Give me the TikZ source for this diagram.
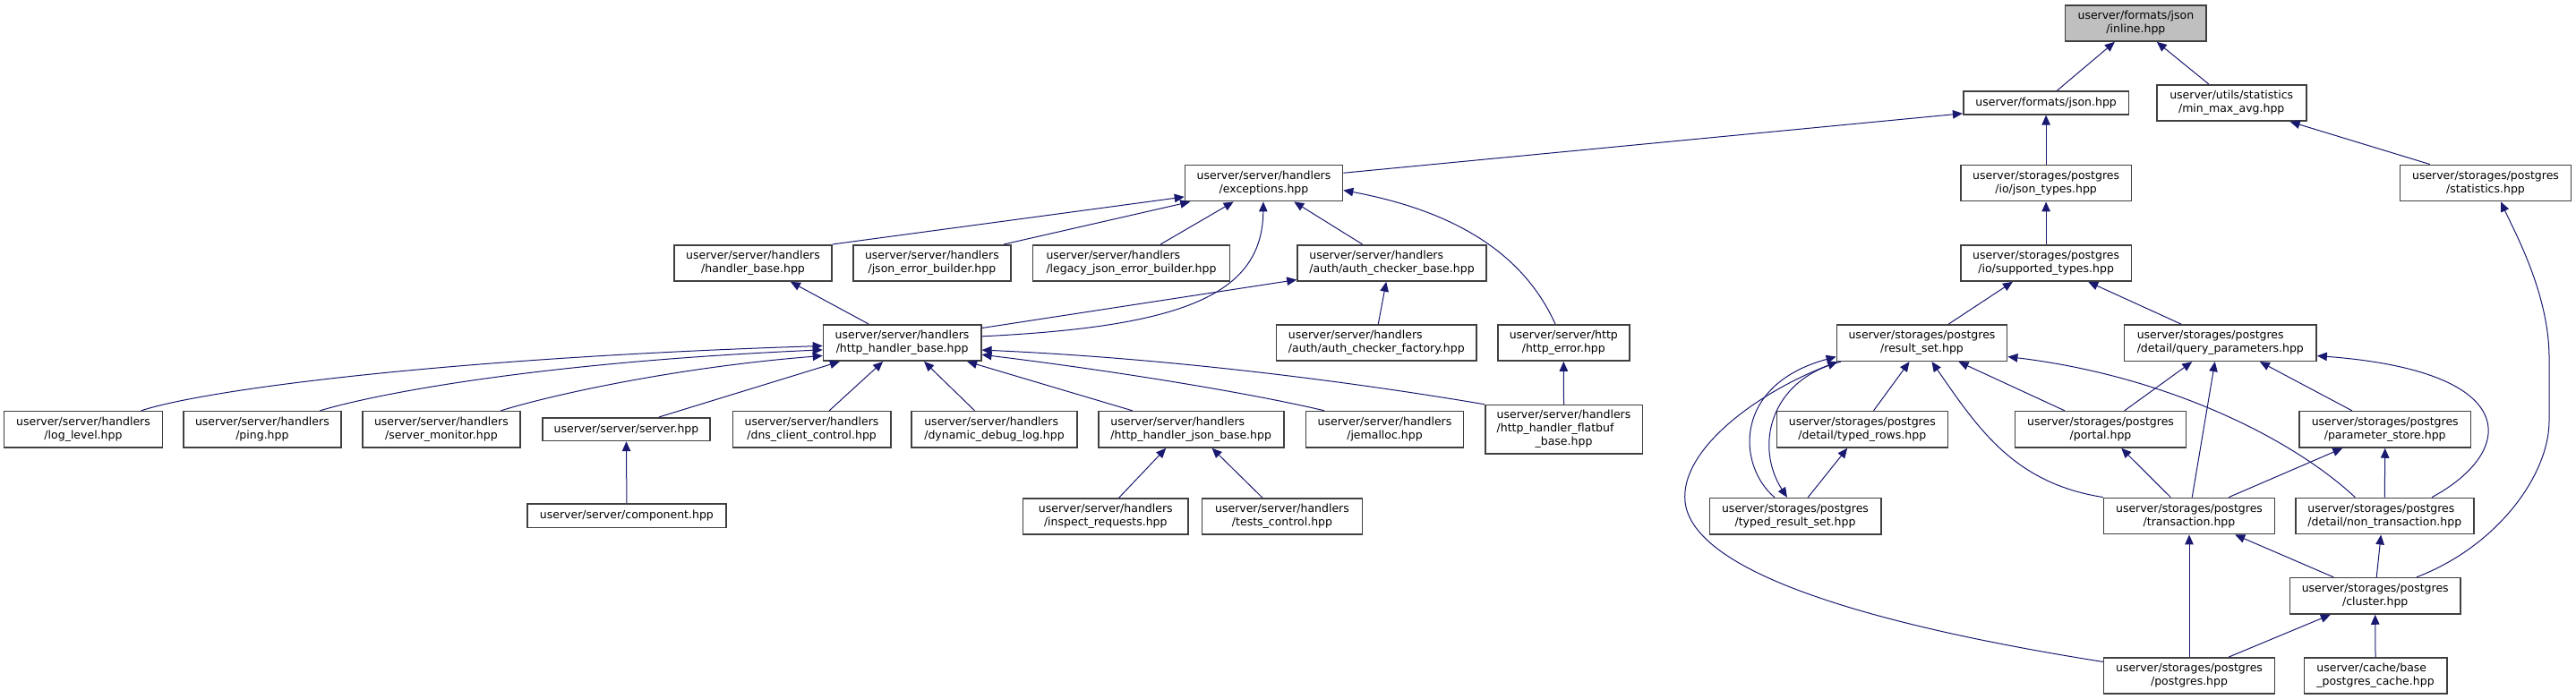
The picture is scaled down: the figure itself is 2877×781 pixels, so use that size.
\documentclass[tikz,border=0pt]{standalone}
\usepackage{fontspec}
\setmainfont{DejaVu Sans}
\usetikzlibrary{arrows.meta}
\definecolor{boxc}{RGB}{64,64,64}
\definecolor{edgec}{RGB}{25,25,112}
\definecolor{rootfill}{RGB}{191,191,191}
\newcommand\two[2]{\begin{tabular}{@{}l@{}}#1\\\multicolumn{1}{@{}c@{}}{#2}\end{tabular}}
\newcommand\three[3]{\begin{tabular}{@{}l@{}}#1\\#2\\\multicolumn{1}{@{}c@{}}{#3}\end{tabular}}
\tikzset{
  box/.style={draw=boxc, line width=1.6pt, fill=white, inner sep=0pt, minimum height=40.3pt, font=\fontsize{12.5pt}{15pt}\selectfont},
  onebox/.style={box, minimum height=25.6pt},
  rootbox/.style={box, fill=rootfill},
  edge/.style={draw=edgec, line width=1pt, -{Triangle[length=11pt,width=9.5pt]}, fill=none},
}
\begin{document}
\begin{tikzpicture}[x=1pt,y=-1pt]
\useasboundingbox (0,0) rectangle (2877,781);
\fill[white] (0,0) rectangle (2877,781);

% ---------- right part ----------
\node[rootbox, minimum width=157.6pt] (inline) at (2385.4,25.9) {\two{userver/formats/json}{/inline.hpp}};
\node[onebox, minimum width=184.8pt] (json) at (2285.1,115) {userver/formats/json.hpp};
\node[box, minimum width=167pt] (minmax) at (2492.2,115) {\two{userver/utils/statistics}{/min\_max\_avg.hpp}};
\node[box, minimum width=190.8pt] (jsontypes) at (2285.1,204.5) {\two{userver/storages/postgres}{/io/json\_types.hpp}};
\node[box, minimum width=191.3pt] (statistics) at (2776,204.5) {\two{userver/storages/postgres}{/statistics.hpp}};
\node[box, minimum width=190.8pt] (supported) at (2285.1,293.9) {\two{userver/storages/postgres}{/io/supported\_types.hpp}};
\node[box, minimum width=214.5pt] (query) at (2479.8,383.2) {\two{userver/storages/postgres}{/detail/query\_parameters.hpp}};
\node[box, minimum width=190.2pt] (resultset) at (2146.5,383.2) {\two{userver/storages/postgres}{/result\_set.hpp}};
\node[box, minimum width=191pt] (typedrows) at (2079.8,479.8) {\two{userver/storages/postgres}{/detail/typed\_rows.hpp}};
\node[box, minimum width=191pt] (portal) at (2346,479.8) {\two{userver/storages/postgres}{/portal.hpp}};
\node[box, minimum width=191.7pt] (paramstore) at (2663.7,479.8) {\two{userver/storages/postgres}{/parameter\_store.hpp}};
\node[box, minimum width=191.4pt] (typedrs) at (2005,576.7) {\two{userver/storages/postgres}{/typed\_result\_set.hpp}};
\node[box, minimum width=190.9pt] (transaction) at (2445,576.5) {\two{userver/storages/postgres}{/transaction.hpp}};
\node[box, minimum width=199.2pt] (nontrans) at (2663.3,576.5) {\two{userver/storages/postgres}{/detail/non\_transaction.hpp}};
\node[box, minimum width=190.2pt] (cluster) at (2652.7,665.8) {\two{userver/storages/postgres}{/cluster.hpp}};
\node[box, minimum width=190.9pt] (postgres) at (2445,755) {\two{userver/storages/postgres}{/postgres.hpp}};
\node[box, minimum width=159.4pt] (basecache) at (2653,755) {\two{userver/cache/base}{\_postgres\_cache.hpp}};

% ---------- left part ----------
\node[box, minimum width=176pt] (exceptions) at (1411.5,204.5) {\two{userver/server/handlers}{/exceptions.hpp}};
\node[box, minimum width=176pt] (handlerbase) at (841,293.9) {\two{userver/server/handlers}{/handler\_base.hpp}};
\node[box, minimum width=175.8pt] (jsonerr) at (1040.9,293.9) {\two{userver/server/handlers}{/json\_error\_builder.hpp}};
\node[box, minimum width=219.9pt] (legacy) at (1263.5,293.9) {\two{userver/server/handlers}{/legacy\_json\_error\_builder.hpp}};
\node[box, minimum width=211pt] (authbase) at (1554.5,293.9) {\two{userver/server/handlers}{/auth/auth\_checker\_base.hpp}};
\node[box, minimum width=176.3pt] (hhb) at (1007.6,383) {\two{userver/server/handlers}{/http\_handler\_base.hpp}};
\node[box, minimum width=223.5pt] (authfactory) at (1537.3,383) {\two{userver/server/handlers}{/auth/auth\_checker\_factory.hpp}};
\node[box, minimum width=146.8pt] (httperror) at (1746.3,383) {\two{userver/server/http}{/http\_error.hpp}};
\node[box, minimum width=176.8pt] (loglevel) at (93,479.8) {\two{userver/server/handlers}{/log\_level.hpp}};
\node[box, minimum width=176.2pt] (ping) at (292.9,479.8) {\two{userver/server/handlers}{/ping.hpp}};
\node[box, minimum width=175.8pt] (servermon) at (492.9,479.8) {\two{userver/server/handlers}{/server\_monitor.hpp}};
\node[onebox, minimum width=187pt] (server) at (699.5,479.6) {userver/server/server.hpp};
\node[box, minimum width=176.3pt] (dns) at (906.6,479.8) {\two{userver/server/handlers}{/dns\_client\_control.hpp}};
\node[box, minimum width=185pt] (dynamic) at (1110.5,479.8) {\two{userver/server/handlers}{/dynamic\_debug\_log.hpp}};
\node[box, minimum width=207pt] (jsonbase) at (1330.2,479.8) {\two{userver/server/handlers}{/http\_handler\_json\_base.hpp}};
\node[box, minimum width=175.8pt] (jemalloc) at (1546.5,479.8) {\two{userver/server/handlers}{/jemalloc.hpp}};
\node[box, minimum width=175.6pt, minimum height=54.3pt] (flatbuf) at (1746.5,479.7) {\three{userver/server/handlers}{/http\_handler\_flatbuf}{\_base.hpp}};
\node[onebox, minimum width=221.8pt, minimum height=26.6pt] (component) at (699.9,576) {userver/server/component.hpp};
\node[box, minimum width=184.4pt] (inspect) at (1234.8,577) {\two{userver/server/handlers}{/inspect\_requests.hpp}};
\node[box, minimum width=178.9pt] (tests) at (1432,577) {\two{userver/server/handlers}{/tests\_control.hpp}};

% ---------- edges: right part ----------
\draw[edge] ([xshift=105.3pt]json.north west) -- ([xshift=56pt]inline.south west);
\draw[edge] ([xshift=59pt]minmax.north west) -- ([xshift=103pt]inline.south west);
\draw[edge] ([yshift=-9.7pt]exceptions.north east) -- ([yshift=1.8pt]json.south west);
\draw[edge] (jsontypes.north) -- (json.south);
\draw[edge] ([xshift=34.2pt]statistics.north west) -- ([xshift=149.7pt]minmax.south west);
\draw[edge] (supported.north) -- (jsontypes.south);
\draw[edge] ([xshift=125.4pt]resultset.north west) -- ([xshift=59pt]supported.south west);
\draw[edge] ([xshift=64.5pt]query.north west) -- ([xshift=143.3pt]supported.south west);
\draw[edge] ([xshift=142.1pt]cluster.north west) .. controls (2790,610) and (2847,530) .. (2847,470) -- (2847,400) .. controls (2847,330) and (2810,262) .. ([xshift=113.4pt]statistics.south west);

\draw[edge] ([xshift=109pt]typedrows.north west) -- ([xshift=81.9pt]resultset.south west);
\draw[edge] ([xshift=73.4pt]typedrs.north west) .. controls (1940,520) and (1935,430) .. ([yshift=5.6pt]resultset.south west);
\draw[edge] ([xshift=5.3pt]resultset.south west) .. controls (1975,425) and (1960,500) .. ([xshift=87.4pt]typedrs.north west);
\draw[edge] ([yshift=-5.4pt]postgres.north west) .. controls (2100,700) and (1880,640) .. (1881.7,554.3) .. controls (1882,500) and (1960,440) .. ([xshift=1.6pt]resultset.south west);
\draw[edge] ([xshift=56.2pt]portal.north west) -- ([xshift=136.9pt]resultset.south west);
\draw[edge] (transaction.north west) .. controls (2250,540) and (2210,480) .. ([xshift=106.9pt]resultset.south west);
\draw[edge] ([xshift=67.3pt]nontrans.north west) .. controls (2560,490) and (2420,420) .. ([yshift=5.6pt]resultset.south east);
\draw[edge] ([xshift=110.7pt]typedrs.north west) -- ([xshift=79.7pt]typedrows.south west);
\draw[edge] ([xshift=123pt]portal.north west) -- ([xshift=76.5pt]query.south west);
\draw[edge] ([xshift=99.5pt]transaction.north west) -- ([xshift=102pt]query.south west);
\draw[edge] ([xshift=59.8pt]paramstore.north west) -- ([xshift=152.1pt]query.south west);
\draw[edge] ([xshift=153.2pt]nontrans.north west) .. controls (2810,505) and (2820,415) .. ([yshift=6.6pt]query.south east);
\draw[edge] ([xshift=75.5pt]transaction.north west) -- ([xshift=119.5pt]portal.south west);
\draw[edge] ([xshift=140.5pt]transaction.north west) -- ([xshift=49.2pt]paramstore.south west);
\draw[edge] (nontrans.north) -- (paramstore.south);
\draw[edge] ([xshift=49.4pt]cluster.north west) -- ([xshift=147.5pt]transaction.south west);
\draw[edge] ([xshift=97.4pt]cluster.north west) -- ([xshift=96.3pt]nontrans.south west);
\draw[edge] (postgres.north) -- (transaction.south);
\draw[edge] ([xshift=140.5pt]postgres.north west) -- ([xshift=46pt]cluster.south west);
\draw[edge] (basecache.north) -- (cluster.south);

% ---------- edges: left part ----------
\draw[edge] (handlerbase.north east) -- ([yshift=5.5pt]exceptions.south west);
\draw[edge] ([xshift=169pt]jsonerr.north west) -- ([xshift=6.5pt]exceptions.south west);
\draw[edge] ([xshift=143.4pt]legacy.north west) -- ([xshift=55pt]exceptions.south west);
\draw[edge] ([xshift=73.4pt]authbase.north west) -- ([xshift=122.5pt]exceptions.south west);
\draw[edge] ([yshift=-13.8pt]hhb.north east) .. controls (1320,365) and (1410,330) .. ([xshift=88.2pt]exceptions.south west);
\draw[edge] ([xshift=64.9pt]httperror.north west) .. controls (1700,280) and (1620,235) .. ([yshift=-29pt]exceptions.north east);
\draw[edge] ([xshift=51.5pt]hhb.north west) -- ([xshift=130.7pt]handlerbase.south west);
\draw[edge] ([yshift=-4.5pt]hhb.north east) -- ([yshift=2.3pt]authbase.south west);
\draw[edge] ([xshift=114.5pt]authfactory.north west) -- ([xshift=100pt]authbase.south west);
\draw[edge] ([xshift=153.8pt]loglevel.north west) .. controls (230,435) and (500,400) .. ([yshift=-24.4pt]hhb.north west);
\draw[edge] ([xshift=153.3pt]ping.north west) .. controls (420,440) and (600,405) .. ([yshift=-28.8pt]hhb.north west);
\draw[edge] ([xshift=155.1pt]servermon.north west) .. controls (620,440) and (760,410) .. ([yshift=-35.4pt]hhb.north west);
\draw[edge] ([xshift=130.7pt]server.north west) -- ([xshift=19.2pt]hhb.south west);
\draw[edge] ([xshift=108.5pt]dns.north west) -- ([xshift=67.5pt]hhb.south west);
\draw[edge] ([xshift=71.4pt]dynamic.north west) -- ([xshift=113.4pt]hhb.south west);
\draw[edge] ([xshift=38.9pt]jsonbase.north west) -- ([xshift=161.5pt]hhb.south west);
\draw[edge] ([xshift=21.4pt]jemalloc.north west) .. controls (1400,440) and (1250,415) .. ([yshift=-34.2pt]hhb.north east);
\draw[edge] (flatbuf.north west) .. controls (1500,425) and (1300,400) .. ([yshift=-29pt]hhb.north east);
\draw[edge] (flatbuf.north) -- (httperror.south);
\draw[edge] (component.north) -- (server.south);
\draw[edge] ([xshift=108pt]inspect.north west) -- ([xshift=76.3pt]jsonbase.south west);
\draw[edge] ([xshift=68.1pt]tests.north west) -- ([xshift=127.7pt]jsonbase.south west);
\end{tikzpicture}
\end{document}
